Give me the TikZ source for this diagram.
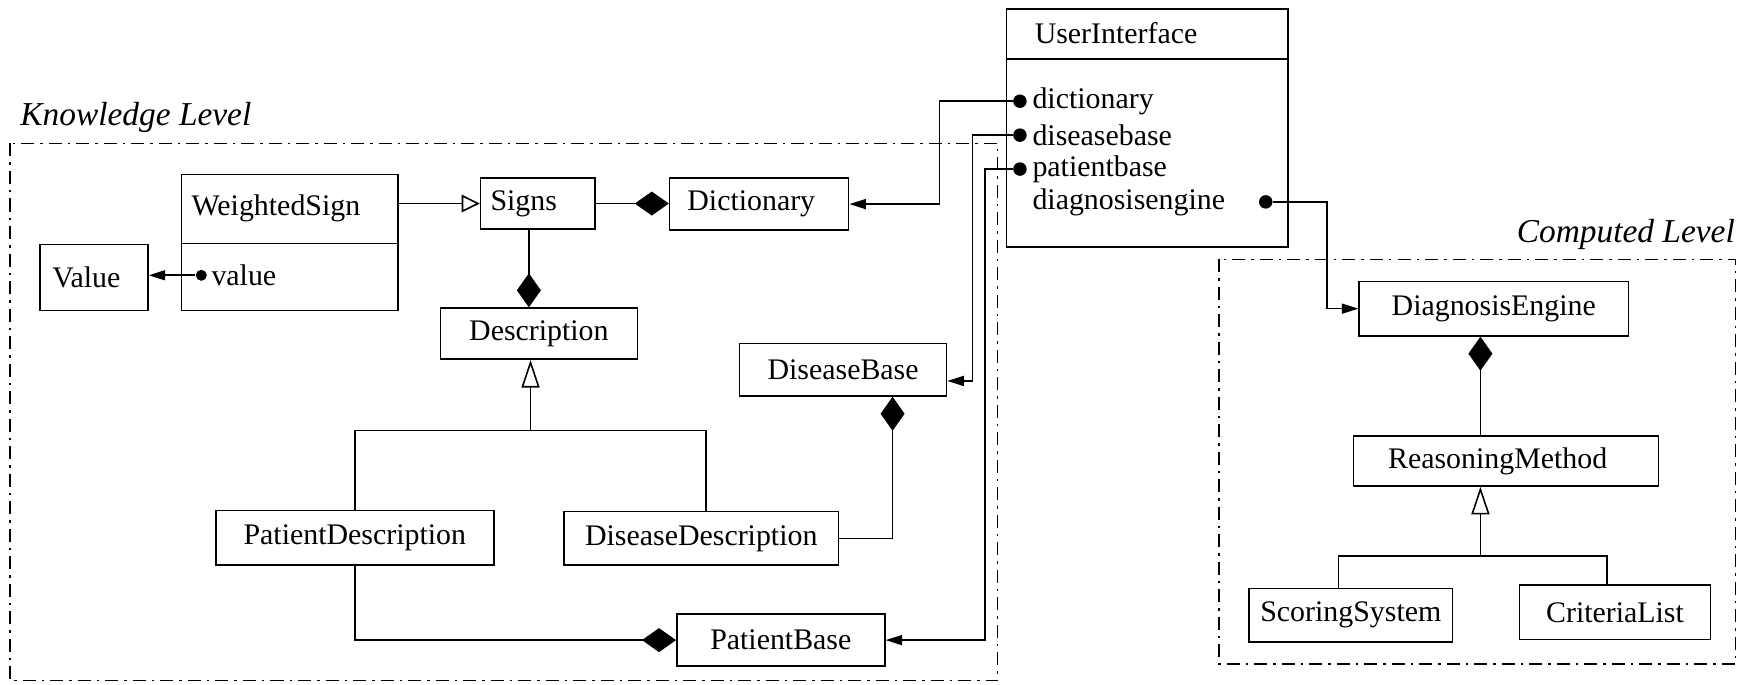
\documentclass[tikz,border=0pt]{standalone}
\usepackage{fontspec}
\setmainfont{Liberation Serif}
\usetikzlibrary{arrows.meta,positioning}
\newcommand{\px}{0.2224mm}

\begin{document}
\begin{tikzpicture}[
      x=\px, y=-\px,
      myclass/.style={
         rectangle,
         draw=black,
         line width=0.9pt,
         inner sep=0pt,
         font=\fontsize{17}{20}\selectfont},
      myleft/.style={align=left},
      mytext/.style={inner sep=0pt, anchor=west, font=\fontsize{17}{20}\selectfont},
      mydot/.style={circle, fill=black, inner sep=0pt, minimum size=2.7mm},
      mylevel/.style={inner sep=0pt, font=\fontsize{19}{22}\selectfont\itshape},
      myframe/.style={line width=0.7pt, dash pattern=on 2.6mm off 1.2mm on 0.5mm off 1.2mm},
      myline/.style={line width=0.9pt},
      myarrow/.style={line width=0.9pt, -{Triangle[length=3.3mm,width=2mm]}},
      mycomp/.style={line width=0.9pt, -{Diamond[length=6.8mm,width=4.8mm]}},
      mygen/.style={line width=0.9pt, -{Triangle[open,length=5.5mm,width=3.6mm]}}
      ]
      \useasboundingbox (0,0) rectangle (1568,615);

      % the two levels
      \draw[myframe] (9,129) rectangle (897,612);
      \draw[myframe] (1096,233) rectangle (1560,597);
      \node[mylevel, anchor=base west] (knowledge) at (18,113) {Knowledge Level};
      \node[mylevel, anchor=base east] (computed) at (1560,218) {Computed Level};

      % knowledge level
      \node[myclass, myleft, inner xsep=11*\px, text width=75*\px, minimum height=59*\px] (value) at (84.5,249.5) {Value};
      \node[myclass, minimum width=195*\px, minimum height=122*\px] (weighted) at (260.5,218) {};
      \draw[myline] (weighted.west |- 0,219) -- (weighted.east |- 0,219);
      \node[mytext] (weightedname) at (172,187) {WeightedSign};
      \node[mydot, minimum size=2.2mm] (weightedval) at (181,247.5) {};
      \node[mytext, right=0.8mm of weightedval] (weightedvaltxt) {value};
      \node[myclass, myleft, inner xsep=9*\px, text width=85*\px, minimum height=46*\px] (signs) at (483.5,183) {Signs};
      \node[myclass, myleft, inner xsep=16*\px, text width=129*\px, minimum height=47*\px] (dict) at (682.5,183.5) {Dictionary};
      \node[myclass, minimum width=177*\px, minimum height=46*\px] (desc) at (484.5,300) {Description};
      \node[myclass, minimum width=186*\px, minimum height=47*\px] (disbase) at (758,332.5) {DiseaseBase};
      \node[myclass, minimum width=250*\px, minimum height=49*\px] (patdesc) at (319,483.5) {PatientDescription};
      \node[myclass, minimum width=247*\px, minimum height=48*\px] (disdesc) at (630.5,484) {DiseaseDescription};
      \node[myclass, minimum width=187*\px, minimum height=47*\px] (patbase) at (702,575.5) {PatientBase};

      % user interface
      \node[myclass, minimum width=253*\px, minimum height=214*\px] (ui) at (1031.5,115) {};
      \draw[myline] (ui.west |- 0,53) -- (ui.east |- 0,53);
      \node[mytext] (uiname) at (930,30) {UserInterface};
      \node[mytext] (uidicttxt) at (928,91) {dictionary};
      \node[mytext] (uidistxt) at (928,121.5) {diseasebase};
      \node[mytext] (uipattxt) at (928,152) {patientbase};
      \node[mytext] (uidiagtxt) at (928,181.5) {diagnosisengine};
      \node[mydot] (uidict) at (917,91) {};
      \node[mydot] (uidis) at (917,121.5) {};
      \node[mydot] (uipat) at (917,152) {};
      \node[mydot] (uidiag) at (1138,181.5) {};

      % computed level
      \node[myclass, minimum width=242*\px, minimum height=49*\px] (diageng) at (1343,277.5) {DiagnosisEngine};
      \node[myclass, myleft, inner xsep=31*\px, text width=212*\px, minimum height=45*\px] (reason) at (1354,414.5) {ReasoningMethod};
      \node[myclass, minimum width=183*\px, minimum height=48*\px] (scoring) at (1214.5,553) {ScoringSystem};
      \node[myclass, minimum width=172*\px, minimum height=49*\px] (criteria) at (1452,550.5) {CriteriaList};
      \coordinate (descjoin) at (477,387);
      \coordinate (reasonjoin) at (1331,500);

      \draw[mygen, -{Triangle[open,length=3.6mm,width=3.5mm]}] (weighted.east |- signs.west) -- (signs.west);
      \draw[mycomp] (signs.east) -- (signs.east -| dict.west);
      \draw[mycomp] ([xshift=-8*\px]signs.south) -- ([xshift=-8*\px]signs.south |- desc.north);
      \draw[myarrow] (weightedval) -- (weightedval -| value.east);
      \draw[mygen] (descjoin) -- (descjoin |- desc.south);
      \draw[myline] (patdesc.north) |- (descjoin) -| ([xshift=4*\px]disdesc.north);
      \draw[mycomp] (disdesc.east) -| ([xshift=44.5*\px]disbase.south);
      \draw[mycomp] (patdesc.south) |- (patbase.west);

    \foreach \a/\b/\d/\s in {% dot/class/offset/shift
      uidict/dict/-72.5/0,
      uidis/disbase/-42.5/-10,
      uipat/patbase/-31.5/0}
       \draw[myarrow] (\a) -- ++(\d,0) |- ([yshift=\s*\px]\b.east);
      \draw[myarrow] (uidiag) -- ++(55,0) |- (diageng.west);

      \draw[mycomp] ([xshift=-23*\px]reason.north) -- ([xshift=-23*\px]reason.north |- diageng.south);
      \draw[mygen] (reasonjoin) -- (reasonjoin |- reason.south);
      \draw[myline] ([xshift=-11*\px]scoring.north) |- (reasonjoin) -| ([xshift=-7*\px]criteria.north);

    \end{tikzpicture}
\end{document}
